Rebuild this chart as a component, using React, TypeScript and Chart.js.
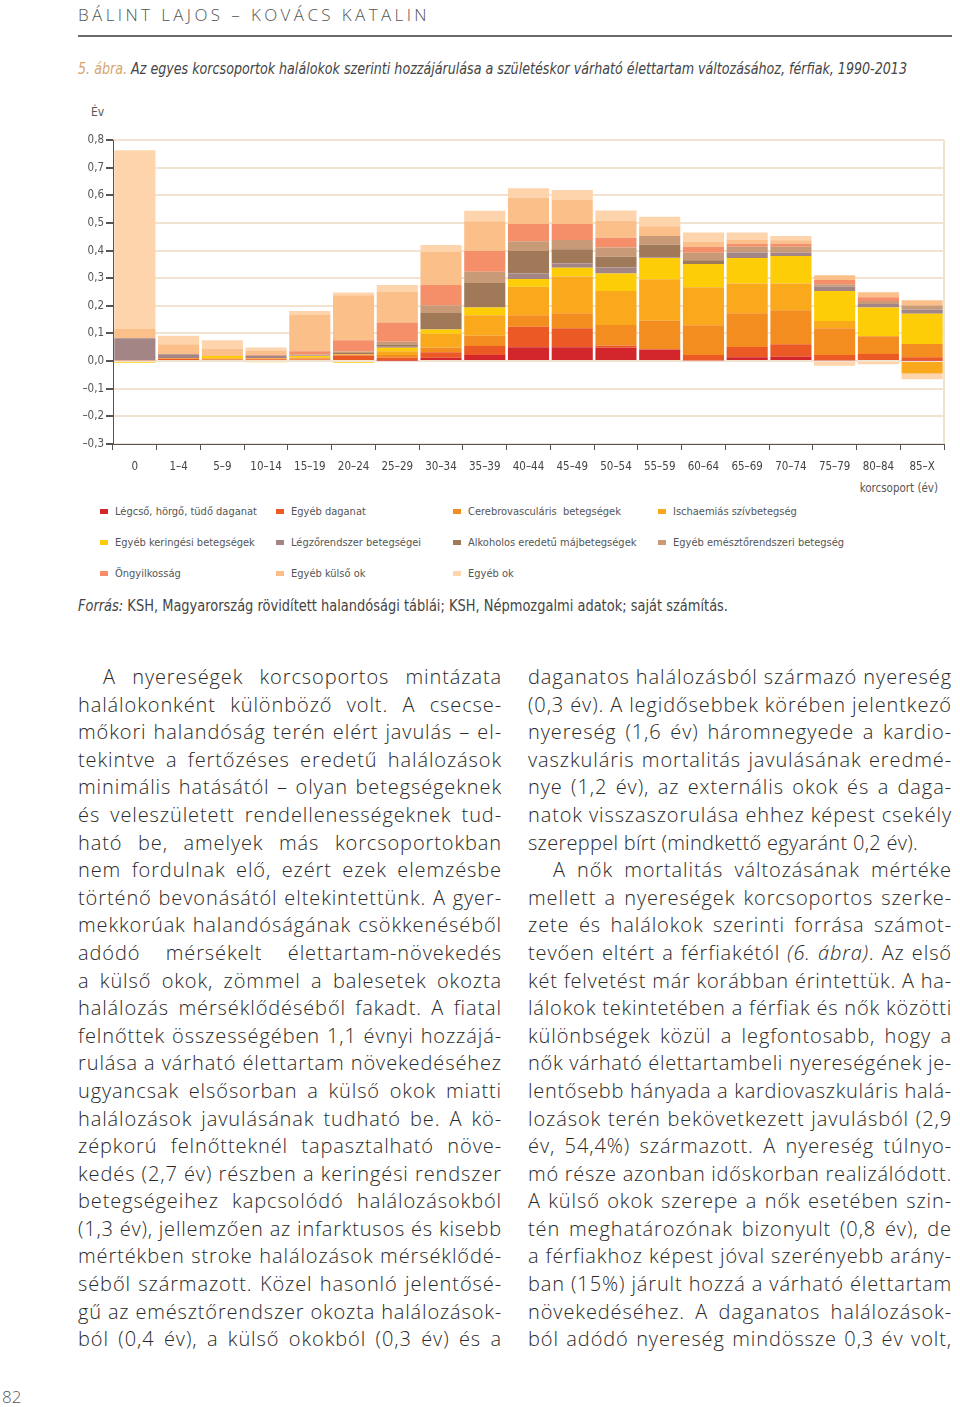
import React, { useEffect, useLayoutEffect, useRef } from "react";
import { Chart, registerables } from "chart.js";
Chart.register(...registerables);

const ageGroups = ["0", "1–4", "5–9", "10–14", "15–19", "20–24", "25–29", "30–34", "35–39", "40–44", "45–49", "50–54", "55–59", "60–64", "65–69", "70–74", "75–79", "80–84", "85–X"];

const causeNames = [
  "Légcső, hörgő, tüdő daganat",
  "Egyéb daganat",
  "Cerebrovasculáris  betegségek",
  "Ischaemiás szívbetegség",
  "Egyéb keringési betegségek",
  "Légzőrendszer betegségei",
  "Alkoholos eredetű májbetegségek",
  "Egyéb emésztőrendszeri betegség",
  "Öngyilkosság",
  "Egyéb külső ok",
  "Egyéb ok",
];

const causeColors = ["#d2252c", "#eb5a24", "#f48d1f", "#f9a91b", "#fdcd08", "#a38585", "#a07a58", "#c99a77", "#f48f69", "#fbc08a", "#fdd4ac"];

const lungCancer = [0, 0, 0, 0, 0, 0, 0.002, 0.012, 0.022, 0.05, 0.05, 0.048, 0.042, 0.003, 0.014, 0.016, 0.003, 0.004, 0.002];
const otherCancer = [0.003, 0.008, 0.006, 0.007, 0.006, 0.02, 0.01, 0.02, 0.033, 0.074, 0.069, 0.008, 0, 0.019, 0.037, 0.045, 0.019, 0.022, 0.012];
const cerebrovascular = [0, 0.002, 0.002, 0.002, 0.004, 0.004, 0.01, 0.017, 0.037, 0.042, 0.054, 0.075, 0.104, 0.108, 0.122, 0.123, 0.097, 0.064, 0.048];
const ischaemic = [0, 0, 0.002, 0.002, 0.003, 0.002, 0.014, 0.05, 0.074, 0.103, 0.133, 0.123, 0.15, 0.137, 0.108, 0.097, 0.026, 0, -0.045];
const otherCirculatory = [-0.006, 0, 0.008, -0.004, 0.005, -0.006, 0.012, 0.015, 0.028, 0.028, 0.032, 0.063, 0.077, 0.084, 0.092, 0.099, 0.109, 0.104, 0.109];
const respiratory = [0.08, 0.015, 0, 0.008, 0.002, 0, 0.004, 0, 0, 0.02, 0.015, 0.022, 0.003, 0, 0.02, 0.012, 0.015, 0.013, 0.016];
const alcoholicLiver = [0, 0, 0, 0, 0, 0.003, 0.008, 0.06, 0.089, 0.081, 0.052, 0.039, 0.045, 0.014, 0, 0, 0, 0, 0];
const otherDigestive = [0, 0, 0, 0, 0.004, 0.006, 0.01, 0.028, 0.04, 0.036, 0.033, 0.033, 0.032, 0.027, 0.021, 0.022, 0.009, 0.01, 0.014];
const suicide = [0, 0, 0, 0.004, 0.012, 0.04, 0.07, 0.073, 0.075, 0.062, 0.058, 0.035, 0, 0.022, 0.011, 0.011, 0.015, 0.014, 0];
const otherExternal = [0.033, 0.036, 0.027, 0.015, 0.131, 0.163, 0.11, 0.12, 0.108, 0.096, 0.087, 0.062, 0.035, 0.018, 0.015, 0.012, 0.018, 0.018, 0.019];
const otherCauses = [0.647, 0.031, 0.03, 0.011, 0.014, 0.01, 0.025, 0.025, 0.038, 0.033, 0.036, 0.037, 0.034, 0.033, 0.025, 0.016, -0.017, -0.011, -0.021];

const seriesValues = [lungCancer, otherCancer, cerebrovascular, ischaemic, otherCirculatory, respiratory, alcoholicLiver, otherDigestive, suicide, otherExternal, otherCauses];

const yMin = -0.3;
const yMax = 0.8;
const yStep = 0.1;

const leftLines = [
  "A nyereségek korcsoportos mintázata",
  "halálokonként különböző volt. A csecse-",
  "mőkori halandóság terén elért javulás – el-",
  "tekintve a fertőzéses eredetű halálozások",
  "minimális hatásától – olyan betegségeknek",
  "és veleszületett rendellenességeknek tud-",
  "ható be, amelyek más korcsoportokban",
  "nem fordulnak elő, ezért ezek elemzésbe",
  "történő bevonásától eltekintettünk. A gyer-",
  "mekkorúak halandóságának csökkenéséből",
  "adódó mérsékelt élettartam-növekedés",
  "a külső okok, zömmel a balesetek okozta",
  "halálozás mérséklődéséből fakadt. A fiatal",
  "felnőttek összességében 1,1 évnyi hozzájá-",
  "rulása a várható élettartam növekedéséhez",
  "ugyancsak elsősorban a külső okok miatti",
  "halálozások javulásának tudható be. A kö-",
  "zépkorú felnőtteknél tapasztalható növe-",
  "kedés (2,7 év) részben a keringési rendszer",
  "betegségeihez kapcsolódó halálozásokból",
  "(1,3 év), jellemzően az infarktusos és kisebb",
  "mértékben stroke halálozások mérséklődé-",
  "séből származott. Közel hasonló jelentősé-",
  "gű az emésztőrendszer okozta halálozások-",
  "ból (0,4 év), a külső okokból (0,3 év) és a",
];

const rightLines = [
  "daganatos halálozásból származó nyereség",
  "(0,3 év). A legidősebbek körében jelentkező",
  "nyereség (1,6 év) háromnegyede a kardio-",
  "vaszkuláris mortalitás javulásának eredmé-",
  "nye (1,2 év), az externális okok és a daga-",
  "natok visszaszorulása ehhez képest csekély",
  "szereppel bírt (mindkettő egyaránt 0,2 év).",
  "A nők mortalitás változásának mértéke",
  "mellett a nyereségek korcsoportos szerke-",
  "zete és halálokok szerinti forrása számot-",
  "tevően eltért a férfiakétól |(6. ábra)|. Az első",
  "két felvetést már korábban érintettük. A ha-",
  "lálokok tekintetében a férfiak és nők közötti",
  "különbségek közül a legfontosabb, hogy a",
  "nők várható élettartambeli nyereségének je-",
  "lentősebb hányada a kardiovaszkuláris halá-",
  "lozások terén bekövetkezett javulásból (2,9",
  "év, 54,4%) származott. A nyereség túlnyo-",
  "mó része azonban időskorban realizálódott.",
  "A külső okok szerepe a nők esetében szin-",
  "tén meghatározónak bizonyult (0,8 év), de",
  "a férfiakhoz képest jóval szerényebb arány-",
  "ban (15%) járult hozzá a várható élettartam",
  "növekedéséhez. A daganatos halálozások-",
  "ból adódó nyereség mindössze 0,3 év volt,",
];

const leftIndent = [0];
const rightIndent = [7];
const rightNoJustify = [6];

const narrow = "'Liberation Sans Narrow', 'DejaVu Sans Condensed', 'Roboto', sans-serif";
const bodyFont = "'Open Sans', Lato, sans-serif";

function renderLine(text: string) {
  const parts = text.split("|");
  return parts.map((p, i) => (i % 2 === 1 ? <i key={i}>{p}</i> : <span key={i}>{p}</span>));
}

function useAfterFonts(fn: () => void) {
  useLayoutEffect(() => {
    fn();
    const f: any = (document as any).fonts;
    if (f && f.ready) f.ready.then(() => fn());
  }, []);
}

function Fit({ width, mode, style, children }: { width: number; mode: "spacing" | "scale"; style?: any; children: any }) {
  const ref = useRef<HTMLSpanElement>(null);
  useAfterFonts(() => {
    const el = ref.current;
    if (!el) return;
    el.style.letterSpacing = "0px";
    el.style.transform = "";
    const w = el.getBoundingClientRect().width;
    if (mode === "spacing") {
      const n = (el.textContent || "").length;
      el.style.letterSpacing = (width - w) / n + "px";
    } else {
      el.style.transform = `scaleX(${width / w})`;
    }
  });
  return (
    <span ref={ref} style={{ display: "inline-block", whiteSpace: "nowrap", transformOrigin: "left center", ...style }}>
      {children}
    </span>
  );
}

function BodyLine({ text, width, justify, indent }: { text: string; width: number; justify: boolean; indent: number }) {
  const boxRef = useRef<HTMLDivElement>(null);
  const spanRef = useRef<HTMLSpanElement>(null);
  useAfterFonts(() => {
    const box = boxRef.current;
    const sp = spanRef.current;
    if (!box || !sp) return;
    box.style.textAlign = "left";
    (box.style as any).textAlignLast = "left";
    sp.style.letterSpacing = "0px";
    const w = sp.getBoundingClientRect().width;
    const n = (sp.textContent || "").length;
    const target = width - indent;
    let ls = justify ? (target - w) / n : 0;
    if (!justify) ls = Math.min(0.3, (target - w) / n);
    ls = Math.max(-0.8, Math.min(0.9, ls));
    sp.style.letterSpacing = ls + "px";
    if (justify) {
      box.style.textAlign = "justify";
      (box.style as any).textAlignLast = "justify";
    }
  });
  return (
    <div ref={boxRef} style={{ height: 27.6, paddingLeft: indent, whiteSpace: "normal", width: width - indent }}>
      <span ref={spanRef}>{renderLine(text)}</span>
    </div>
  );
}

function TextColumn({ lines, left, indents, noJustify }: { lines: string[]; left: number; indents: number[]; noJustify: number[] }) {
  return (
    <div style={{ position: "absolute", left, top: 663, width: 424, fontFamily: bodyFont, fontWeight: 300, fontSize: 20, lineHeight: "27.6px", color: "#2a2a2a" }}>
      {lines.map((l, i) => (
        <BodyLine key={i} text={l} width={424} justify={!noJustify.includes(i)} indent={indents.includes(i) ? 25 : 0} />
      ))}
    </div>
  );
}

function BarChart() {
  const ref = useRef<HTMLCanvasElement>(null);
  useEffect(() => {
    if (!ref.current) return;
    const borderPlugin = {
      id: "rightBorder",
      beforeDatasetsDraw(chart: any) {
        const { ctx, chartArea } = chart;
        ctx.save();
        ctx.strokeStyle = "#f1e2cf";
        ctx.lineWidth = 2;
        ctx.beginPath();
        ctx.moveTo(chartArea.right, chartArea.top);
        ctx.lineTo(chartArea.right, chartArea.bottom);
        ctx.stroke();
        ctx.restore();
      },
    };
    const chart = new Chart(ref.current, {
      type: "bar",
      data: {
        labels: ageGroups,
        datasets: causeNames.map((name, i) => ({
          label: name,
          data: seriesValues[i],
          backgroundColor: causeColors[i],
          borderWidth: 0,
          barPercentage: 0.94,
          categoryPercentage: 1,
        })),
      },
      options: {
        animation: false,
        responsive: false,
        maintainAspectRatio: false,
        layout: { padding: { top: 45, right: 6, left: 0, bottom: 0 } },
        plugins: { legend: { display: false }, tooltip: { enabled: false } },
        scales: {
          x: {
            stacked: true,
            offset: true,
            grid: { drawOnChartArea: false, drawTicks: true, tickLength: 6, tickColor: "#555", offset: true, lineWidth: 1 },
            border: { color: "#555", width: 1 },
            ticks: { color: "#444", font: { family: narrow, size: 11.5 }, padding: 10, maxRotation: 0, autoSkip: false },
            afterFit: (s: any) => { s.height = 30; },
          },
          y: {
            stacked: true,
            min: yMin,
            max: yMax,
            grid: { color: "#f2e3d0", lineWidth: 2, tickColor: "#555", tickLength: 7, drawTicks: true },
            border: { color: "#555", width: 1 },
            ticks: {
              stepSize: yStep,
              color: "#555",
              padding: 2,
              font: { family: narrow, size: 11.5 },
              callback: (v: any) => {
                const n = Math.round(Number(v) * 10) / 10;
                return n.toFixed(1).replace(".", ",").replace("-", "–");
              },
            },
            afterFit: (s: any) => { s.width = 53; },
          },
        },
      },
      plugins: [borderPlugin],
    } as any);
    return () => chart.destroy();
  }, []);
  return <canvas ref={ref} width={890} height={379} style={{ position: "absolute", left: 60, top: 95, width: 890, height: 379 }} />;
}

export default function App() {
  const legendCols = [100, 276, 453, 658];
  const legendRows = [511, 542, 573];
  return (
    <div style={{ position: "absolute", left: 0, top: 0, width: 960, height: 1407, background: "#fff", overflow: "hidden" }}>
      <div style={{ position: "absolute", left: 78, top: 3 }}>
        <Fit width={352} mode="spacing" style={{ fontFamily: bodyFont, fontWeight: 300, fontSize: 17, color: "#555" }}>
          BÁLINT LAJOS – KOVÁCS KATALIN
        </Fit>
      </div>
      <div style={{ position: "absolute", left: 78, top: 35, width: 874, height: 2, background: "#6a6a6a" }} />
      <div style={{ position: "absolute", left: 78, top: 59 }}>
        <Fit width={829} mode="scale" style={{ fontFamily: narrow, fontStyle: "italic", fontSize: 16, color: "#444" }}>
          <span style={{ color: "#d6a56e" }}>5. ábra.</span> Az egyes korcsoportok halálokok szerinti hozzájárulása a születéskor várható élettartam változásához, férfiak, 1990-2013
        </Fit>
      </div>
      <div style={{ position: "absolute", left: 91, top: 105, fontFamily: narrow, fontSize: 12, color: "#555" }}>Év</div>
      <BarChart />
      <div style={{ position: "absolute", left: 800, width: 138, top: 481, textAlign: "right", fontFamily: narrow, fontSize: 11.5, color: "#555" }}>korcsoport (év)</div>
      {causeNames.map((name, i) => {
        const col = i % 4;
        const row = Math.floor(i / 4);
        return (
          <div key={i} style={{ position: "absolute", left: legendCols[col], top: legendRows[row] - 8, height: 16, display: "flex", alignItems: "center", fontFamily: narrow, fontSize: 11, color: "#555", whiteSpace: "pre" }}>
            <span style={{ display: "inline-block", width: 8, height: 5, background: causeColors[i], marginRight: 7 }} />
            {name}
          </div>
        );
      })}
      <div style={{ position: "absolute", left: 78, top: 597 }}>
        <Fit width={650} mode="scale" style={{ fontFamily: narrow, fontSize: 15, color: "#444" }}>
          <i>Forrás:</i> KSH, Magyarország rövidített halandósági táblái; KSH, Népmozgalmi adatok; saját számítás.
        </Fit>
      </div>
      <TextColumn lines={leftLines} left={78} indents={leftIndent} noJustify={[]} />
      <TextColumn lines={rightLines} left={528} indents={rightIndent} noJustify={rightNoJustify} />
      <div style={{ position: "absolute", left: 2, top: 1385, fontFamily: bodyFont, fontWeight: 300, fontSize: 17, color: "#555" }}>82</div>
    </div>
  );
}
